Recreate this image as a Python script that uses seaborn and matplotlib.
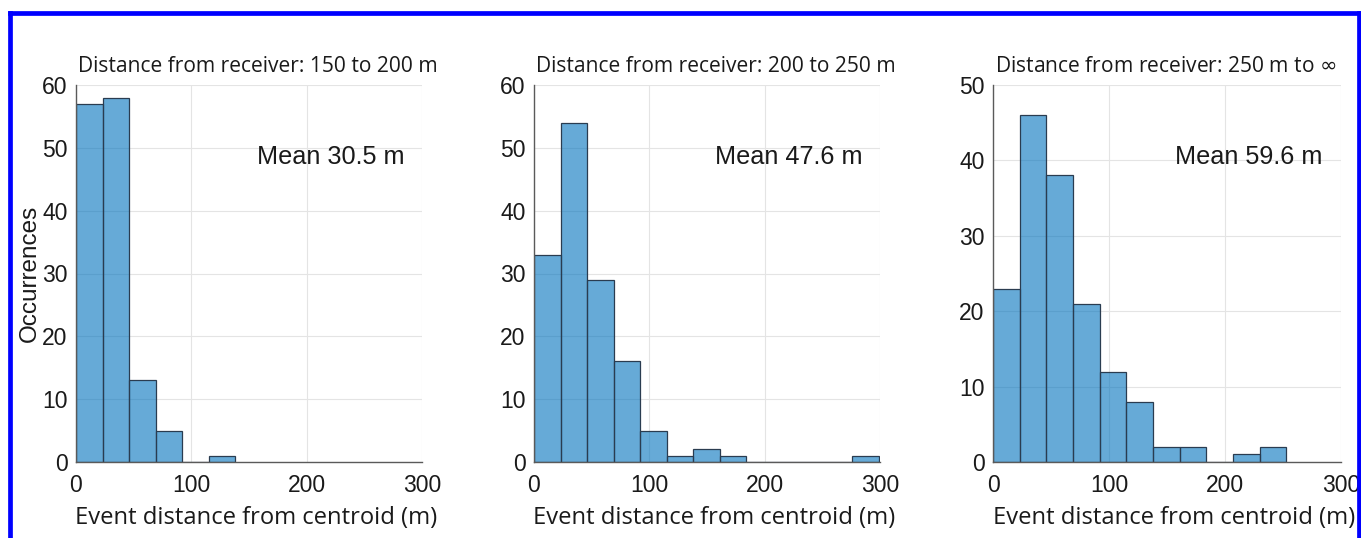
import numpy as np
import pandas as pd
import matplotlib
matplotlib.use("Agg")
import matplotlib.pyplot as plt
from matplotlib.lines import Line2D
import seaborn as sns

# Histogram bin width (m) and the per-bin counts for each receiver-distance band
bin_width = 23
counts_150_200 = [57, 58, 13, 5, 0, 1]
counts_200_250 = [33, 54, 29, 16, 5, 1, 2, 1, 0, 0, 0, 0, 1]
counts_250_inf = [23, 46, 38, 21, 12, 8, 2, 2, 0, 1, 2]

titles = [
    "Distance from receiver: 150 to 200 m",
    "Distance from receiver: 200 to 250 m",
    r"Distance from receiver: 250 m to $\infty$",
]
mean_labels = ["Mean 30.5 m", "Mean 47.6 m", "Mean 59.6 m"]
y_max = [60, 60, 50]
x_ticks = [0, 100, 200, 300]

sns.set_theme(style="white")
plt.rcParams["font.family"] = ["Liberation Sans", "DejaVu Sans"]
plt.rcParams["mathtext.fontset"] = "dejavusans"

fig = plt.figure(figsize=(13.61, 5.38), dpi=100)
W, H = 1361, 538

# axes boxes in pixels: left, right, top, bottom
boxes = [(76, 422, 85, 462), (534, 880, 85, 462), (993, 1341, 85, 462)]

face = (0.0, 0.447, 0.741)   # semi-transparent histogram face
edge = "#2a3c50"
axis_col = "#5a5a5a"
text_col = "#1a1a1a"

all_counts = [counts_150_200, counts_200_250, counts_250_inf]
for i, counts in enumerate(all_counts):
    l, r, t, b = boxes[i]
    ax = fig.add_axes([l / W, 1 - b / H, (r - l) / W, (b - t) / H])
    n = len(counts)
    centers = np.arange(n) * bin_width + bin_width / 2
    df = pd.DataFrame({"dist": centers, "count": counts})
    sns.histplot(data=df, x="dist", weights="count", binwidth=bin_width,
                 binrange=(0, n * bin_width), ax=ax,
                 facecolor=face + (0.6,), edgecolor=edge, linewidth=0.9)
    ax.set_xlim(0, 300)
    ax.set_ylim(0, y_max[i])
    ax.set_xticks(x_ticks)
    ax.set_yticks(np.arange(0, y_max[i] + 1, 10))
    ax.grid(True, color="#e4e4e4", linewidth=0.8)
    ax.set_axisbelow(True)
    for s in ["top", "right"]:
        ax.spines[s].set_visible(False)
    for s in ["left", "bottom"]:
        ax.spines[s].set_color(axis_col)
        ax.spines[s].set_linewidth(1.0)
        ax.spines[s].set_zorder(3)
    ax.tick_params(axis="both", direction="in", length=3, width=0.8,
                   color=axis_col, labelsize=16.5, labelcolor=text_col)
    ax.tick_params(axis="x", pad=9)
    ax.tick_params(axis="y", pad=6)
    for lab in ax.get_xticklabels() + ax.get_yticklabels():
        lab.set_family(["Liberation Sans", "DejaVu Sans"])
    ax.set_xlabel("Event distance from centroid (m)", fontsize=17.1,
                  family=["Open Sans", "DejaVu Sans"], color=text_col)
    ax.xaxis.set_label_coords(0.52, -0.118)
    if i == 0:
        ax.set_ylabel("Occurrences", fontsize=17.5, color=text_col, labelpad=1)
    else:
        ax.set_ylabel("")
    ax.text(0.005, 1.022, titles[i], transform=ax.transAxes, ha="left", va="bottom",
            fontsize=15.1, family=["Open Sans", "DejaVu Sans"], color=text_col)
    ax.text(0.523, 0.809, mean_labels[i], transform=ax.transAxes, ha="left",
            va="center", fontsize=18.2, color=text_col)

# blue frame around the panel group (top, left and right sides)
frame_kw = dict(color="#0000ff", linewidth=3.4, transform=fig.transFigure,
                solid_capstyle="projecting")
y_top = 1 - 13 / H
x_left = 9.5 / W
x_right = 1359 / W
fig.lines.append(Line2D([x_left, x_right], [y_top, y_top], **frame_kw))
fig.lines.append(Line2D([x_left, x_left], [0, y_top], **frame_kw))
fig.lines.append(Line2D([x_right, x_right], [0, y_top], **frame_kw))

fig.savefig("out.png", dpi=100, facecolor="white")
